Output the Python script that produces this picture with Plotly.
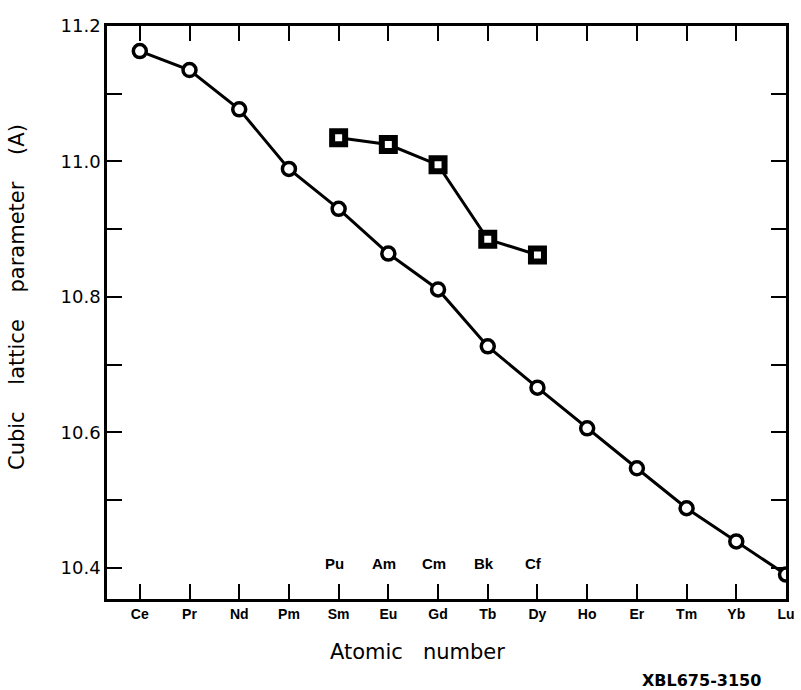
import plotly.graph_objects as go

# Lanthanide series (circles)
lanthanides = ["Ce", "Pr", "Nd", "Pm", "Sm", "Eu", "Gd", "Tb", "Dy", "Ho", "Er", "Tm", "Yb", "Lu"]
lattice_ln = [11.163, 11.135, 11.077, 10.989, 10.930, 10.864, 10.811, 10.727, 10.666, 10.606, 10.547, 10.488, 10.439, 10.390]

# Actinide series (squares), placed under Sm..Dy
actinides = ["Pu", "Am", "Cm", "Bk", "Cf"]
actinide_pos = ["Sm", "Eu", "Gd", "Tb", "Dy"]
lattice_an = [11.035, 11.025, 10.995, 10.885, 10.862]

# y-axis ticks
y_ticks = [10.4, 10.5, 10.6, 10.7, 10.8, 10.9, 11.0, 11.1, 11.2]
y_labels = ["10.4", "", "10.6", "", "10.8", "", "11.0", "", "11.2"]

FONT = "Liberation Sans"
FONT2 = "DejaVu Sans"

fig = go.Figure()
fig.add_trace(go.Scatter(
    x=lanthanides, y=lattice_ln, mode="lines+markers",
    line=dict(color="black", width=3),
    marker=dict(symbol="circle", size=13, color="white", line=dict(color="black", width=3.5)),
    showlegend=False,
))
fig.add_trace(go.Scatter(
    x=actinide_pos, y=lattice_an, mode="lines+markers",
    line=dict(color="black", width=3),
    marker=dict(symbol="square", size=13, color="white", line=dict(color="black", width=6)),
    showlegend=False,
))

annotations = []
for name, pos in zip(actinides, actinide_pos):
    annotations.append(dict(
        x=pos, y=10.406, xref="x", yref="y", text=name, showarrow=False,
        xshift=-4, font=dict(family=FONT, size=15, color="black", weight="bold"),
    ))

annotations.append(dict(
    x=0.458, y=0, xref="paper", yref="paper", yshift=-53, text="Atomic   number",
    showarrow=False, yanchor="middle", font=dict(family=FONT2, size=21, color="black"),
))
annotations.append(dict(
    x=0, y=0.527, xref="paper", yref="paper", xshift=-90, text="Cubic    lattice    parameter    (A)",
    showarrow=False, textangle=-90, xanchor="center", yanchor="middle",
    font=dict(family=FONT2, size=21, color="black"),
))
annotations.append(dict(
    x=1, y=0, xref="paper", yref="paper", xshift=-23, yshift=-81, text="XBL675-3150",
    showarrow=False, xanchor="right", yanchor="middle",
    font=dict(family=FONT2, size=16, color="black", weight="bold"),
))

fig.update_layout(
    width=801, height=690,
    margin=dict(l=107, r=6, t=26, b=91),
    paper_bgcolor="white", plot_bgcolor="white",
    annotations=annotations,
    showlegend=False,
)
fig.update_xaxes(
    type="category", categoryorder="array", categoryarray=lanthanides,
    range=[-0.66, 13.0],
    showline=True, linecolor="black", linewidth=2.5, mirror="ticks",
    ticks="inside", ticklen=15, tickwidth=2, tickcolor="black",
    showgrid=False, zeroline=False,
    tickfont=dict(family=FONT, size=14, color="black", weight="bold"),
)
fig.update_yaxes(
    range=[10.354, 11.2],
    tickvals=y_ticks, ticktext=y_labels,
    showline=True, linecolor="black", linewidth=2.5, mirror="ticks",
    ticks="inside", ticklen=15, tickwidth=2, tickcolor="black",
    showgrid=False, zeroline=False,
    tickfont=dict(family=FONT2, size=18, color="black"),
)

fig.write_html(
    "out.html",
    config={"displayModeBar": False},
    post_script="document.body.style.margin='0';document.body.style.overflow='hidden';",
)
